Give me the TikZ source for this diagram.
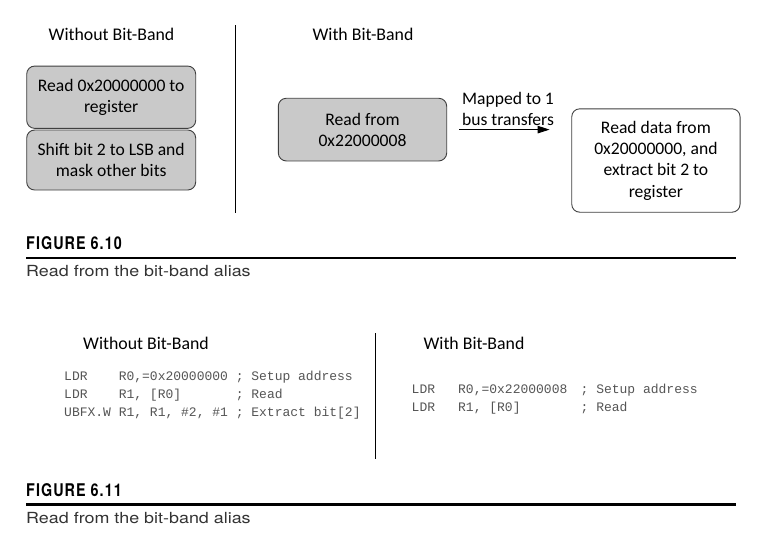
\documentclass[tikz,border=0pt]{standalone}
\usepackage{fontspec}
\setmainfont{Carlito}
\newfontfamily\figfont[FakeStretch=0.82,LetterSpace=6]{TeX Gyre Heros}
\newfontfamily\capfont[FakeStretch=1.17]{TeX Gyre Heros}
\newfontfamily\codefont{Liberation Mono}
\usetikzlibrary{arrows.meta}
\definecolor{boxgray}{HTML}{C9C9C9}
\definecolor{codegray}{HTML}{555555}
\definecolor{capgray}{HTML}{333333}
\tikzset{
  graybox/.style={draw=black!75, line width=0.9pt, fill=boxgray, rounded corners=8pt,
    minimum width=169pt, minimum height=62pt, inner sep=0pt, align=center,
    font=\fontsize{17.6}{21}\selectfont},
  whitebox/.style={graybox, fill=white, font=\fontsize{17.6}{21.4}\selectfont},
  titletext/.style={font=\fontsize{17.8}{21}\selectfont, anchor=base, inner sep=0pt},
  codeline/.style={font=\codefont\fontsize{13}{18}\selectfont, text=codegray, anchor=base west, inner sep=0pt},
  figlabel/.style={font=\figfont\bfseries\fontsize{17.5}{18}\selectfont, anchor=base west, inner sep=0pt},
  captext/.style={font=\capfont\fontsize{15.3}{18}\selectfont, anchor=base west, inner sep=0pt, text=capgray},
  sepline/.style={line width=1pt, black},
}
\begin{document}
\begin{tikzpicture}[x=1pt,y=-1pt]
\useasboundingbox[fill=white] (0,0) rectangle (771,558);

% ---------- Figure 6.10 ----------
\node[titletext] (t1) at (111.5,40.5) {Without Bit-Band};
\node[titletext] (t2) at (363,40.5) {With Bit-Band};
\draw[sepline] (235.5,25) -- (235.5,213);

\node[graybox, minimum height=62.3pt] (b1) at (111.2,97.2) {Read 0x20000000 to\\register};
\node[graybox, minimum height=60pt] (b2) at (111.2,160) {Shift bit 2 to LSB and\\mask other bits};
\node[graybox, minimum width=168.4pt, minimum height=62.7pt] (b3) at (362.5,129.6) {Read from\\0x22000008};
\node[whitebox, minimum width=168.3pt, minimum height=103.4pt] (b4) at (655.9,160.5)
  {Read data from\\0x20000000, and\\extract bit 2 to\\register};

\draw[-{Triangle[length=12pt,width=7.5pt]}, line width=0.9pt, shorten <=12.3pt, shorten >=21.7pt]
  (b3.east) -- (b3.east -| b4.west);
\node[align=center, font=\fontsize{17.6}{20.5}\selectfont, inner sep=0pt] (map) at (508,109) {Mapped to 1\\bus transfers};

\node[figlabel] (f1) at (26,249.7) {FIGURE 6.10};
\draw[line width=1.3pt] (26,258) -- (736,258);
\node[captext] (c1) at (26,276.3) {Read from the bit-band alias};

% ---------- Figure 6.11 ----------
\node[titletext] (t3) at (146,349.5) {Without Bit-Band};
\node[titletext] (t4) at (474,349.5) {With Bit-Band};
\draw[sepline] (375.5,333) -- (375.5,459);

\node[codeline] (l1) at (64,380.5) {\makebox[54.6pt][l]{LDR}\makebox[117pt][l]{R0,=0x20000000}; Setup address};
\node[codeline] (l2) at (64,398.5) {\makebox[54.6pt][l]{LDR}\makebox[117pt][l]{R1, [R0]}; Read};
\node[codeline] (l3) at (64,416.5) {\makebox[54.6pt][l]{UBFX.W}\makebox[117pt][l]{R1, R1, \#2, \#1}; Extract bit[2]};

\node[codeline] (r1) at (411.5,393.3) {\makebox[46.5pt][l]{LDR}\makebox[122.5pt][l]{R0,=0x22000008}; Setup address};
\node[codeline] (r2) at (411.5,411) {\makebox[46.5pt][l]{LDR}\makebox[122.5pt][l]{R1, [R0]}; Read};

\node[figlabel] (f2) at (26,496.3) {FIGURE 6.11};
\draw[line width=2.5pt] (26,504.3) -- (736,504.3);
\node[captext] (c2) at (26,523) {Read from the bit-band alias};
\end{tikzpicture}
\end{document}
